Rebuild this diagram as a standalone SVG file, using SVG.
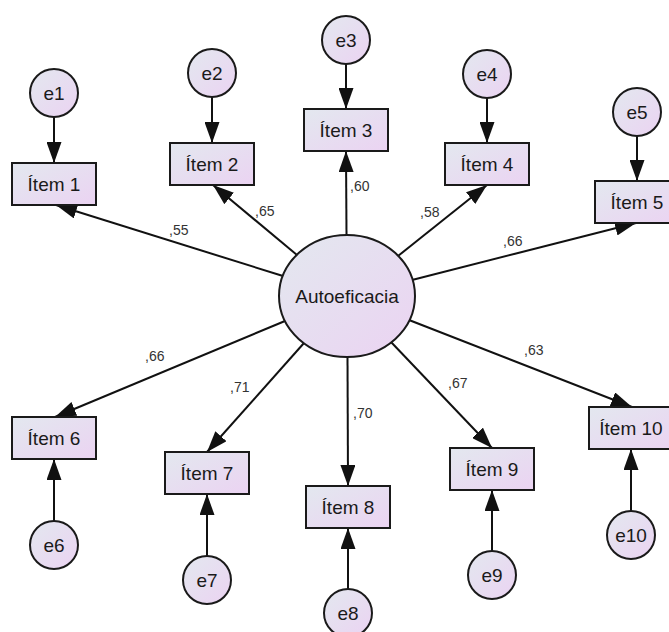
<svg xmlns="http://www.w3.org/2000/svg" width="669" height="632" viewBox="0 0 669 632">
<defs>
<linearGradient id="g" x1="0" y1="0" x2="1" y2="1">
<stop offset="0" stop-color="#e3e8ef"/>
<stop offset="1" stop-color="#ebd3f2"/>
</linearGradient>
<marker id="ah" markerUnits="userSpaceOnUse" markerWidth="21" markerHeight="15" refX="21" refY="7.5" orient="auto">
<path d="M0,0 L21,7.5 L0,15 z" fill="#111"/>
</marker>
<style>
.n{fill:url(#g);stroke:#1a1a1a;stroke-width:2}
.t{font-family:"Liberation Sans",Arial,sans-serif;font-size:19px;fill:#1a1a1a;text-anchor:middle}
.l{font-family:"Liberation Sans",Arial,sans-serif;font-size:14px;fill:#333}
.c line{stroke:#111;stroke-width:2;marker-end:url(#ah)}
</style>
</defs>
<rect width="669" height="632" fill="#fff"/>
<g class="c" id="connectors">
<line x1="283" y1="276" x2="56" y2="205"/>
<line x1="297" y1="255" x2="213" y2="185"/>
<line x1="346.5" y1="235" x2="346" y2="151"/>
<line x1="398" y1="256" x2="487" y2="185"/>
<line x1="412" y1="280" x2="636" y2="223"/>
<line x1="285" y1="321" x2="55" y2="417"/>
<line x1="304" y1="343" x2="207" y2="452"/>
<line x1="347.5" y1="357" x2="348" y2="486"/>
<line x1="391" y1="342" x2="492" y2="448"/>
<line x1="409" y1="320" x2="632" y2="407"/>
<line x1="54" y1="117" x2="54" y2="163"/>
<line x1="212" y1="97" x2="212" y2="143"/>
<line x1="346" y1="64" x2="346" y2="109"/>
<line x1="487" y1="98" x2="487" y2="143"/>
<line x1="637" y1="136" x2="637" y2="181"/>
<line x1="54" y1="521" x2="54" y2="459"/>
<line x1="207" y1="556" x2="207" y2="494"/>
<line x1="348" y1="589" x2="348" y2="528"/>
<line x1="492" y1="551" x2="492" y2="490"/>
<line x1="631" y1="511" x2="631" y2="449"/>
</g>
<g id="labels">
<text class="l" x="169" y="235">,55</text>
<text class="l" x="255" y="216">,65</text>
<text class="l" x="350" y="191">,60</text>
<text class="l" x="420" y="217">,58</text>
<text class="l" x="503" y="246">,66</text>
<text class="l" x="145" y="361">,66</text>
<text class="l" x="230" y="392">,71</text>
<text class="l" x="353" y="418">,70</text>
<text class="l" x="448" y="388">,67</text>
<text class="l" x="524" y="355">,63</text>
</g>
<g id="autoeficacia"><ellipse class="n" cx="347" cy="296" rx="68" ry="61"/><text class="t" x="347" y="302.5">Autoeficacia</text></g>
<g id="item1"><rect class="n" x="12" y="163" width="84" height="42"/><text class="t" x="54" y="190.5">Ítem 1</text></g>
<g id="item2"><rect class="n" x="170" y="143" width="84" height="42"/><text class="t" x="212" y="170.5">Ítem 2</text></g>
<g id="item3"><rect class="n" x="304" y="109" width="84" height="42"/><text class="t" x="346" y="136.5">Ítem 3</text></g>
<g id="item4"><rect class="n" x="445" y="143" width="84" height="42"/><text class="t" x="487" y="170.5">Ítem 4</text></g>
<g id="item5"><rect class="n" x="595" y="181" width="84" height="42"/><text class="t" x="637" y="208.5">Ítem 5</text></g>
<g id="item6"><rect class="n" x="12" y="417" width="84" height="42"/><text class="t" x="54" y="444.5">Ítem 6</text></g>
<g id="item7"><rect class="n" x="165" y="452" width="84" height="42"/><text class="t" x="207" y="479.5">Ítem 7</text></g>
<g id="item8"><rect class="n" x="306" y="486" width="84" height="42"/><text class="t" x="348" y="513.5">Ítem 8</text></g>
<g id="item9"><rect class="n" x="450" y="448" width="84" height="42"/><text class="t" x="492" y="475.5">Ítem 9</text></g>
<g id="item10"><rect class="n" x="589" y="407" width="84" height="42"/><text class="t" x="631" y="434.5">Ítem 10</text></g>
<g id="e1"><circle class="n" cx="54" cy="93" r="24"/><text class="t" x="54" y="99.5">e1</text></g>
<g id="e2"><circle class="n" cx="212" cy="73" r="24"/><text class="t" x="212" y="79.5">e2</text></g>
<g id="e3"><circle class="n" cx="346" cy="40" r="24"/><text class="t" x="346" y="46.5">e3</text></g>
<g id="e4"><circle class="n" cx="487" cy="74" r="24"/><text class="t" x="487" y="80.5">e4</text></g>
<g id="e5"><circle class="n" cx="637" cy="112" r="24"/><text class="t" x="637" y="118.5">e5</text></g>
<g id="e6"><circle class="n" cx="54" cy="545" r="24"/><text class="t" x="54" y="551.5">e6</text></g>
<g id="e7"><circle class="n" cx="207" cy="580" r="24"/><text class="t" x="207" y="586.5">e7</text></g>
<g id="e8"><circle class="n" cx="348" cy="613" r="24"/><text class="t" x="348" y="619.5">e8</text></g>
<g id="e9"><circle class="n" cx="492" cy="575" r="24"/><text class="t" x="492" y="581.5">e9</text></g>
<g id="e10"><circle class="n" cx="631" cy="535" r="24"/><text class="t" x="631" y="541.5">e10</text></g>
</svg>
